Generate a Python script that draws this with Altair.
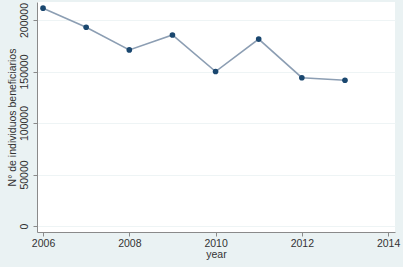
import altair as alt
import pandas as pd

years = [2006, 2007, 2008, 2009, 2010, 2011, 2012, 2013]
beneficiarios = [211500, 193000, 171000, 185500, 150000, 181500, 144000, 141500]

df = pd.DataFrame({"year": years, "n": beneficiarios})

font = "Liberation Sans"
x = alt.X("year:Q", title="year",
          scale=alt.Scale(domain=[2005.86, 2014.16], nice=False, zero=False),
          axis=alt.Axis(values=[2006, 2008, 2010, 2012, 2014], format="d", grid=False,
                        tickSize=4, labelPadding=2, titlePadding=1,
                        labelFontSize=10.5, titleFontSize=10.5))
y = alt.Y("n:Q", title="N° de individuos beneficiarios",
          scale=alt.Scale(domain=[-5800, 217500], nice=False, zero=False),
          axis=alt.Axis(values=[0, 50000, 100000, 150000, 200000], format="d",
                        labelAngle=270, labelAlign="center", labelBaseline="bottom",
                        tickSize=4, labelPadding=4, titlePadding=2, grid=True,
                        gridColor="#EEF4F5", gridWidth=1,
                        labelFontSize=10.5, titleFontSize=10.5))

line = alt.Chart(df).mark_line(color="#8C9EB3", strokeWidth=1.6).encode(x=x, y=y)
pts = alt.Chart(df).mark_point(filled=True, color="#1A476F", size=32, opacity=1).encode(x=x, y=y)

chart = (line + pts).properties(
    width=358, height=230,
    autosize=alt.AutoSizeParams(type="none"),
    padding={"left": 37, "top": 2, "right": 8, "bottom": 35},
    background="#EAF2F3",
).configure_view(fill="white", stroke=None).configure_axis(
    domainColor="#8A8A8A", tickColor="#8A8A8A", labelColor="#333333", titleColor="#333333",
    labelFont=font, titleFont=font, titleFontWeight="normal", domainWidth=1,
)

chart.save("out.html", embed_options={"renderer": "svg", "actions": False})
